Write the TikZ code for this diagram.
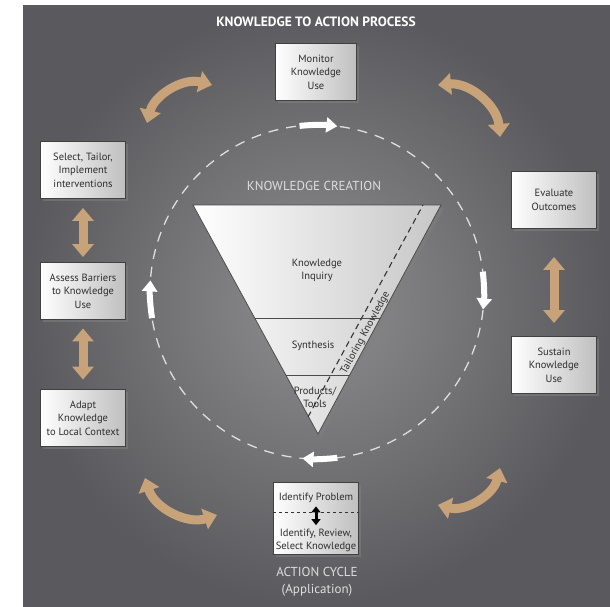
\documentclass[tikz,border=0pt]{standalone}
\usepackage{fontspec}
\setmainfont{PT Sans}
\usetikzlibrary{arrows.meta,shadows,calc}

\definecolor{bgin}{RGB}{142,142,143}
\definecolor{bgout}{RGB}{90,90,94}
\definecolor{armtan}{RGB}{200,162,120}
\definecolor{inktext}{RGB}{45,45,45}
\definecolor{softtext}{RGB}{222,222,222}

\tikzset{
    stagebox/.style={draw=black!75, line width=0.9pt, left color=white, right color=black!25,
        text=inktext, minimum width=85pt, minimum height=57pt, inner sep=2pt, align=center,
        font=\fontsize{10.5}{13.5}\selectfont,
        drop shadow={opacity=0.55, shadow xshift=2.5pt, shadow yshift=-2.5pt}},
    twoway/.style={armtan, line width=9pt,
        {Triangle[width=21pt,length=13pt]}-{Triangle[width=21pt,length=13pt]}},
    cyclearrow/.style={white, line width=6pt, -{Triangle[width=15pt,length=11pt]}},
    caption/.style={text=softtext, align=center, font=\fontsize{13}{17}\selectfont},
    pyrtext/.style={text=inktext, align=center, font=\fontsize{10.5}{13}\selectfont},
}

\begin{document}
\begin{tikzpicture}[x=1pt, y=-1pt]
            \useasboundingbox (0, 0) rectangle (610, 606);
            \shade[inner color=bgin, outer color=bgout] (23, 5) rectangle (610, 606);

            \node (title) at (316, 22)[text=white, font=\bfseries\fontsize{13.5}{15}\selectfont]{KNOWLEDGE TO ACTION PROCESS};

            \coordinate (ring) at (317, 292);
            \draw[softtext, line width=1.3pt, dash pattern=on 10pt off 8pt] (ring) circle[radius=167];
            \foreach \s/\e in {-96/-83, -7/6, 83/95, 171/184}
                {
                    \draw[cyclearrow] (ring) ++(\s:167) arc[start angle=\s, end angle=\e, radius=167];
                }

            \coordinate (tl) at (193, 205);
            \coordinate (tr) at (441, 205);
            \coordinate (tip) at (318, 434);
            \shadedraw[draw=black!70, line width=0.8pt, left color=white, right color=black!22,
                drop shadow={opacity=0.5, shadow xshift=3pt, shadow yshift=-3pt}] (tl) -- (tr) -- (tip) -- cycle;
            \draw[black!70, line width=0.8pt] ($(tl)!0.493!(tip)$) -- ($(tr)!0.493!(tip)$);
            \draw[black!70, line width=0.8pt] ($(tl)!0.742!(tip)$) -- ($(tr)!0.742!(tip)$);

            \coordinate (tailtop) at (423, 205);
            \coordinate (tailfoot) at (308, 417);
            \draw[black!80, line width=1.1pt, dash pattern=on 6pt off 4pt] (tailfoot) -- (tailtop)
                node[pos=0.42, sloped, below, inner sep=5pt, pyrtext](tailoring){Tailoring Knowledge};

            \node (creation) at (314, 186)[caption]{KNOWLEDGE CREATION};
            \node (inquiry) at (317, 270)[pyrtext]{Knowledge\\Inquiry};
            \node (synthesis) at (313, 346)[pyrtext]{Synthesis};
            \node (products) at (315, 397)[pyrtext]{Products/\\Tools};

            \node (monitor) at (316, 72)[stagebox, minimum width=81pt]{Monitor\\Knowledge\\Use};
            \node (select) at (83, 170)[stagebox]{Select, Tailor,\\Implement\\interventions};
            \node (assess) at (83, 291)[stagebox]{Assess Barriers\\to Knowledge\\Use};
            \node (adapt) at (83, 418)[stagebox]{Adapt\\Knowledge\\to Local Context};
            \node (evaluate) at (554, 200)[stagebox]{Evaluate\\Outcomes};
            \node (sustain) at (554, 365)[stagebox]{Sustain\\Knowledge\\Use};
            \node (identify) at (316, 518)[stagebox, minimum height=72pt]{};

            \node (problem) at (316, 498)[pyrtext]{Identify Problem};
            \node (review) at (316, 540)[pyrtext]{Identify, Review,\\Select Knowledge};
            \draw[black!80, dashed, line width=0.8pt] ([yshift=6pt]identify.west) -- ([yshift=6pt]identify.east);
            \draw[black, line width=3pt, {Triangle[width=9pt,length=6pt]}-{Triangle[width=9pt,length=6pt]}] (problem.south) -- (review.north);

            \node (cycle) at (317, 582)[caption]{ACTION CYCLE\\(Application)};

            \draw[twoway, shorten <=9pt, shorten >=5pt] (select) -- (assess);
            \draw[twoway, shorten <=8.5pt, shorten >=9.5pt] (assess) -- (adapt);
            \draw[twoway, shorten <=28pt, shorten >=13pt] (evaluate) -- (sustain);

            \coordinate (sm1) at (147, 123);
            \coordinate (sm2) at (212, 85);
            \coordinate (me1) at (438, 85);
            \coordinate (me2) at (500, 137);
            \coordinate (ai1) at (145, 478);
            \coordinate (ai2) at (217, 515);
            \coordinate (is1) at (500, 468);
            \coordinate (is2) at (438, 505);
            \draw[twoway] (sm1) to[bend left=45] (sm2);
            \draw[twoway] (me1) to[bend left=45] (me2);
            \draw[twoway] (ai1) to[bend right=45] (ai2);
            \draw[twoway] (is1) to[bend left=45] (is2);
        \end{tikzpicture}
\end{document}
